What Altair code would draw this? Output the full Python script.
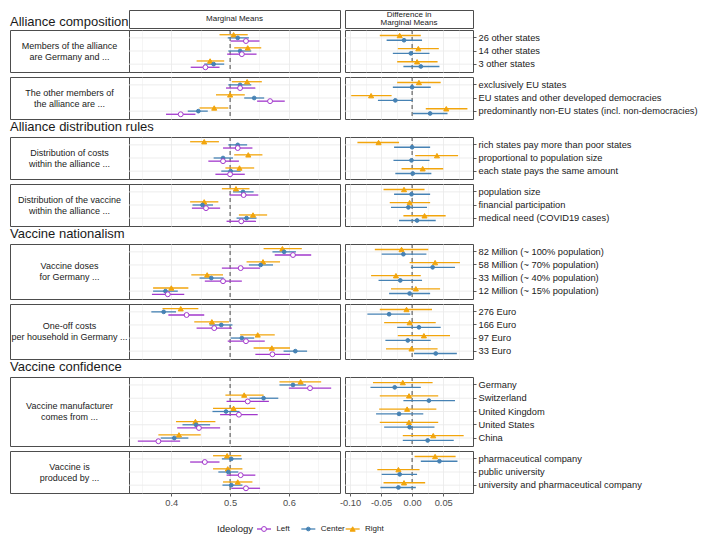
import altair as alt
import pandas as pd

# ---------------- categories ----------------
SECTION_TITLES = ["Alliance composition", "Alliance distribution rules",
                  "Vaccine nationalism", "Vaccine confidence"]
SECTION_ATTRS = [[0, 1], [2, 3], [4, 5], [6, 7]]
ATTR_LABELS = [
    ["Members of the alliance", "are Germany and ..."],
    ["The other members of", "the alliance are ..."],
    ["Distribution of costs", "within the alliance ..."],
    ["Distribution of the vaccine", "within the alliance ..."],
    ["Vaccine doses", "for Germany ..."],
    ["One-off costs", "per household in Germany ..."],
    ["Vaccine manufacturer", "comes from ..."],
    ["Vaccine is", "produced by ..."],
]
ATTR_LEVELS = [
    ["26 other states", "14 other states", "3 other states"],
    ["exclusively EU states", "EU states and other developed democracies",
     "predominantly non-EU states (incl. non-democracies)"],
    ["rich states pay more than poor states", "proportional to population size",
     "each state pays the same amount"],
    ["population size", "financial participation", "medical need (COVID19 cases)"],
    ["82 Million (~ 100% population)", "58 Million (~ 70% population)",
     "33 Million (~ 40% population)", "12 Million (~ 15% population)"],
    ["276 Euro", "166 Euro", "97 Euro", "33 Euro"],
    ["Germany", "Switzerland", "United Kingdom", "United States", "China"],
    ["pharmaceutical company", "public university", "university and pharmaceutical company"],
]
HEADERS = [["Marginal Means"], ["Difference in", "Marginal Means"]]
IDEOLOGIES = ["Left", "Center", "Right"]
MM_DODGE = ["Right", "Center", "Left"]
DIFF_DODGE = ["Right", "Center"]

# ---------------- values: (estimate, lower, upper), one per level in ATTR_LEVELS order ----------------
MM_LEFT = [
    (0.527, 0.501, 0.550), (0.520, 0.495, 0.545), (0.458, 0.433, 0.482),
    (0.517, 0.493, 0.543), (0.568, 0.546, 0.593), (0.416, 0.391, 0.441),
    (0.513, 0.488, 0.538), (0.488, 0.463, 0.515), (0.500, 0.475, 0.525),
    (0.523, 0.499, 0.548), (0.459, 0.435, 0.483), (0.519, 0.494, 0.544),
    (0.607, 0.576, 0.638), (0.518, 0.486, 0.551), (0.488, 0.457, 0.520), (0.394, 0.367, 0.422),
    (0.426, 0.395, 0.456), (0.473, 0.443, 0.503), (0.527, 0.496, 0.559), (0.572, 0.543, 0.602),
    (0.636, 0.600, 0.672), (0.530, 0.494, 0.566), (0.515, 0.483, 0.547), (0.447, 0.410, 0.483),
    (0.378, 0.343, 0.415),
    (0.457, 0.432, 0.482), (0.518, 0.494, 0.543), (0.527, 0.502, 0.551),
]
MM_CENTER = [
    (0.513, 0.496, 0.532), (0.517, 0.497, 0.536), (0.472, 0.456, 0.490),
    (0.517, 0.497, 0.536), (0.541, 0.524, 0.558), (0.446, 0.428, 0.462),
    (0.513, 0.497, 0.529), (0.488, 0.472, 0.505), (0.501, 0.485, 0.518),
    (0.522, 0.505, 0.540), (0.453, 0.436, 0.471), (0.528, 0.511, 0.545),
    (0.592, 0.572, 0.612), (0.552, 0.532, 0.573), (0.468, 0.448, 0.489), (0.390, 0.369, 0.411),
    (0.387, 0.366, 0.408), (0.485, 0.465, 0.504), (0.520, 0.501, 0.541), (0.611, 0.591, 0.631),
    (0.607, 0.584, 0.629), (0.557, 0.533, 0.582), (0.493, 0.470, 0.516), (0.442, 0.419, 0.466),
    (0.405, 0.382, 0.429),
    (0.502, 0.486, 0.520), (0.497, 0.480, 0.514), (0.502, 0.487, 0.521),
]
MM_RIGHT = [
    (0.506, 0.482, 0.530), (0.530, 0.507, 0.553), (0.466, 0.443, 0.490),
    (0.529, 0.503, 0.554), (0.500, 0.476, 0.525), (0.473, 0.448, 0.497),
    (0.456, 0.432, 0.481), (0.531, 0.507, 0.555), (0.516, 0.492, 0.541),
    (0.510, 0.486, 0.533), (0.456, 0.432, 0.480), (0.539, 0.515, 0.563),
    (0.589, 0.557, 0.622), (0.556, 0.528, 0.585), (0.461, 0.434, 0.488), (0.400, 0.369, 0.429),
    (0.416, 0.385, 0.446), (0.469, 0.439, 0.498), (0.547, 0.517, 0.576), (0.571, 0.540, 0.602),
    (0.620, 0.584, 0.655), (0.524, 0.492, 0.557), (0.506, 0.471, 0.543), (0.441, 0.408, 0.475),
    (0.413, 0.378, 0.450),
    (0.495, 0.471, 0.519), (0.496, 0.471, 0.521), (0.513, 0.488, 0.538),
]
DIFF_CENTER = [
    (-0.013, -0.041, 0.016), (-0.002, -0.031, 0.028), (0.014, -0.014, 0.044),
    (0.000, -0.031, 0.030), (-0.027, -0.055, 0.001), (0.029, 0.001, 0.057),
    (0.000, -0.029, 0.029), (-0.001, -0.030, 0.028), (0.001, -0.027, 0.031),
    (-0.001, -0.029, 0.029), (-0.006, -0.034, 0.024), (0.008, -0.021, 0.038),
    (-0.014, -0.049, 0.023), (0.033, -0.002, 0.069), (-0.019, -0.054, 0.016), (-0.004, -0.037, 0.029),
    (-0.037, -0.072, -0.003), (0.011, -0.024, 0.046), (-0.007, -0.043, 0.030), (0.038, 0.003, 0.072),
    (-0.028, -0.067, 0.014), (0.027, -0.014, 0.069), (-0.021, -0.058, 0.018), (-0.004, -0.045, 0.036),
    (0.025, -0.015, 0.067),
    (0.044, 0.014, 0.073), (-0.020, -0.049, 0.008), (-0.022, -0.051, 0.006),
]
DIFF_RIGHT = [
    (-0.020, -0.052, 0.014), (0.010, -0.023, 0.043), (0.008, -0.024, 0.041),
    (0.011, -0.024, 0.046), (-0.066, -0.098, -0.033), (0.055, 0.022, 0.089),
    (-0.054, -0.088, -0.021), (0.040, 0.005, 0.074), (0.017, -0.017, 0.050),
    (-0.013, -0.046, 0.020), (-0.004, -0.036, 0.029), (0.020, -0.014, 0.054),
    (-0.017, -0.060, 0.026), (0.037, -0.004, 0.077), (-0.026, -0.066, 0.014), (0.006, -0.034, 0.045),
    (-0.009, -0.052, 0.032), (-0.004, -0.045, 0.038), (0.019, -0.023, 0.061), (-0.001, -0.042, 0.041),
    (-0.015, -0.063, 0.033), (-0.005, -0.052, 0.042), (-0.008, -0.053, 0.039), (-0.005, -0.052, 0.042),
    (0.034, -0.015, 0.083),
    (0.037, 0.004, 0.070), (-0.022, -0.056, 0.012), (-0.013, -0.046, 0.021),
]

# ---------------- axis settings ----------------
MM_TICKS = [0.35, 0.4, 0.45, 0.5, 0.55, 0.6, 0.65]
DIFF_TICKS = [-0.1, -0.075, -0.05, -0.025, 0.0, 0.025, 0.05, 0.075]
MM_DOMAIN = [0.328, 0.687]
DIFF_DOMAIN = [-0.108, 0.098]
MM_REF = 0.5
DIFF_REF = 0.0
MM_MAJOR = "abs(datum.value * 10 - round(datum.value * 10)) < 0.001"
DIFF_MAJOR = "abs(datum.value * 20 - round(datum.value * 20)) < 0.001"

# ---------------- style ----------------
PURPLE = "#A238CC"
BLUE = "#4682B4"
ORANGE = "#F2A50C"
TEXT = "#1a1a1a"
AXIS_TEXT = "#4d4d4d"
BORDER = "#4d4d4d"
GRID = "#ebebeb"
FONT = "Liberation Sans"

LBW, MMW, DW, GAP = 119, 211, 128, 5
HH = 18
TITLE_H = 16
ROW_GAP = 3
PANEL_H = {3: 42, 4: 55, 5: 69}
LRH, LY = 27, 21
NOFRAME = alt.ViewBackground(strokeOpacity=0)

POINT_STYLE = {
    "Left": dict(shape="circle", size=24, fill="white", stroke=PURPLE),
    "Center": dict(shape="circle", size=14, fill=BLUE, stroke=BLUE),
    "Right": dict(shape="triangle-up", size=26, fill=ORANGE, stroke=ORANGE),
}

# ---------------- data table ----------------
records = []
k = 0
for a, levels in enumerate(ATTR_LEVELS):
    for lev in levels:
        for ideo, arr in (("Left", MM_LEFT), ("Center", MM_CENTER), ("Right", MM_RIGHT)):
            est, lo, hi = arr[k]
            records.append(dict(attr=a, level=lev, ideology=ideo, kind="mm", est=est, lo=lo, hi=hi))
        for ideo, arr in (("Center", DIFF_CENTER), ("Right", DIFF_RIGHT)):
            est, lo, hi = arr[k]
            records.append(dict(attr=a, level=lev, ideology=ideo, kind="diff", est=est, lo=lo, hi=hi))
        k += 1
DF = pd.DataFrame(records)

stroke_enc = alt.Stroke("ideology:N", scale=alt.Scale(domain=IDEOLOGIES, range=[PURPLE, BLUE, ORANGE]),
                        legend=None)


def text_cell(lines, width, height, x, y, size, align="center", baseline="middle",
              frame=True, line_height=11, color=TEXT):
    """Single-line text marks stacked around (x, y)."""
    n = len(lines)
    layers = []
    for i, line in enumerate(lines):
        yy = y + (i - (n - 1) / 2) * line_height
        layers.append(alt.Chart(pd.DataFrame({"t": [line]})).mark_text(
            fontSize=size, align=align, baseline=baseline, color=color).encode(
            text="t:N", x=alt.value(x), y=alt.value(yy)))
    props = dict(width=width, height=height)
    if not frame:
        props["view"] = NOFRAME
    return alt.layer(*layers).properties(**props)


def spacer(width, height):
    empty = pd.DataFrame({"t": pd.Series([], dtype=str)})
    return alt.Chart(empty).mark_text().encode(text="t:N").properties(
        width=width, height=height, view=NOFRAME)


def data_panel(a, kind, bottom):
    levels = ATTR_LEVELS[a]
    h = PANEL_H[len(levels)]
    if kind == "mm":
        domain, ticks, ref, dodge, width, test = MM_DOMAIN, MM_TICKS, MM_REF, MM_DODGE, MMW, MM_MAJOR
        lab = f"{test} ? format(datum.value, '.1f') : ''"
    else:
        domain, ticks, ref, dodge, width, test = DIFF_DOMAIN, DIFF_TICKS, DIFF_REF, DIFF_DODGE, DW, DIFF_MAJOR
        lab = f"{test} ? replace(format(datum.value, '.2f'), '\u2212', '-') : ''"
    ax = dict(values=ticks, title=None, domain=False, grid=True, gridColor=GRID,
              gridWidth={"condition": {"test": test, "value": 0.9}, "value": 0.5})
    if bottom:
        ax.update(labels=True, ticks=True, labelExpr=lab, tickSize=3, tickColor="#333333",
                  tickWidth=0.8, tickOpacity={"condition": {"test": test, "value": 1}, "value": 0},
                  labelFontSize=9.3, labelColor=AXIS_TEXT, labelPadding=2)
    else:
        ax.update(labels=False, ticks=False)
    xaxis = alt.Axis(**ax)
    xscale = alt.Scale(domain=domain, nice=False, zero=False)
    yscale = alt.Scale(domain=levels, paddingInner=0.28, paddingOuter=0.24)
    if kind == "mm":
        y = alt.Y("level:N", scale=yscale, axis=None)
    else:
        y = alt.Y("level:N", scale=yscale, axis=alt.Axis(
            orient="right", title=None, domain=False, grid=False, ticks=True, tickSize=3,
            tickColor="#333333", tickWidth=0.8, labelFontSize=9.3, labelColor=TEXT,
            labelPadding=2, labelLimit=400))
    yoff = alt.YOffset("ideology:N", scale=alt.Scale(domain=dodge, paddingInner=0, paddingOuter=0))

    ygrid = alt.Chart(pd.DataFrame({"level": levels})).mark_rule(
        color=GRID, strokeWidth=0.9).encode(y=y)
    refl = alt.Chart(pd.DataFrame({"ref": [ref]})).mark_rule(
        color="#333333", strokeWidth=0.9, strokeDash=[4, 3]).encode(
        x=alt.X("ref:Q", scale=xscale, axis=xaxis))
    base = alt.Chart(DF[(DF.attr == a) & (DF.kind == kind)])
    bars = base.mark_rule(strokeWidth=1.3).encode(
        x=alt.X("lo:Q", scale=xscale, axis=xaxis), x2="hi:Q", y=y, yOffset=yoff, stroke=stroke_enc)
    pts = []
    for ideo in dodge:
        pts.append(base.transform_filter(alt.datum.ideology == ideo).mark_point(
            opacity=1, strokeWidth=1, filled=True, **POINT_STYLE[ideo]).encode(
            x=alt.X("est:Q", scale=xscale, axis=xaxis), y=y, yOffset=yoff))
    return alt.layer(ygrid, refl, bars, *pts).properties(width=width, height=h)


def panel_row(a, bottom):
    h = PANEL_H[len(ATTR_LEVELS[a])]
    label = text_cell(ATTR_LABELS[a], LBW, h, LBW / 2, h / 2, 9, line_height=11)
    return alt.hconcat(label, data_panel(a, "mm", bottom), spacer(GAP, h),
                       data_panel(a, "diff", bottom),
                       spacing=0, bounds="flush").resolve_scale(yOffset="independent")


FULL_W = LBW + MMW + GAP + DW
rows = [alt.hconcat(
    text_cell([SECTION_TITLES[0]], LBW, HH, 0, HH - 2, 13, align="left", baseline="alphabetic",
              frame=False),
    text_cell(HEADERS[0], MMW, HH, MMW / 2, HH / 2, 8),
    spacer(GAP, HH),
    text_cell(HEADERS[1], DW, HH, DW / 2, HH / 2, 8, line_height=8.5),
    spacing=0, bounds="flush")]
for s, attrs in enumerate(SECTION_ATTRS):
    if s > 0:
        rows.append(text_cell([SECTION_TITLES[s]], FULL_W, TITLE_H, 0, TITLE_H - 5, 13,
                              align="left", baseline="alphabetic", frame=False))
    for j, a in enumerate(attrs):
        if j > 0:
            rows.append(spacer(FULL_W, ROW_GAP))
        rows.append(panel_row(a, a == 7))

# ---------------- legend ----------------
STEP = 44.33
LOFF = 8 - STEP / 2
ldf = pd.DataFrame({"ideology": IDEOLOGIES})
lx = alt.X("ideology:N", scale=alt.Scale(domain=IDEOLOGIES, paddingInner=0, paddingOuter=0), axis=None)
lbase = alt.Chart(ldf)
seg = lbase.mark_tick(orient="horizontal", size=14, thickness=1.3, xOffset=LOFF, opacity=1).encode(
    x=lx, y=alt.value(LY),
    color=alt.Color("ideology:N", scale=alt.Scale(domain=IDEOLOGIES, range=[PURPLE, BLUE, ORANGE]),
                    legend=None))
lpts = [lbase.transform_filter(alt.datum.ideology == ideo).mark_point(
    opacity=1, strokeWidth=1, filled=True, xOffset=LOFF, **POINT_STYLE[ideo]).encode(
    x=lx, y=alt.value(LY)) for ideo in IDEOLOGIES]
ltxt = lbase.mark_text(align="left", baseline="middle", fontSize=8, color=TEXT, xOffset=LOFF + 12.4).encode(
    x=lx, y=alt.value(LY), text="ideology:N")
legend_items = alt.layer(seg, *lpts, ltxt).properties(width=3 * STEP, height=LRH, view=NOFRAME)
LTW = 45
rows.append(alt.hconcat(
    spacer(201, LRH),
    text_cell(["Ideology"], LTW, LRH, LTW - 3, LY, 9.5, align="right", frame=False),
    legend_items, spacing=0, bounds="flush"))

chart = alt.vconcat(*rows, spacing=0).properties(
    padding={"left": 1, "top": 1, "right": 2, "bottom": 1}
).configure(font=FONT).configure_view(stroke=BORDER, strokeWidth=1)

chart.save("out.html", embed_options={"renderer": "svg", "actions": False})
